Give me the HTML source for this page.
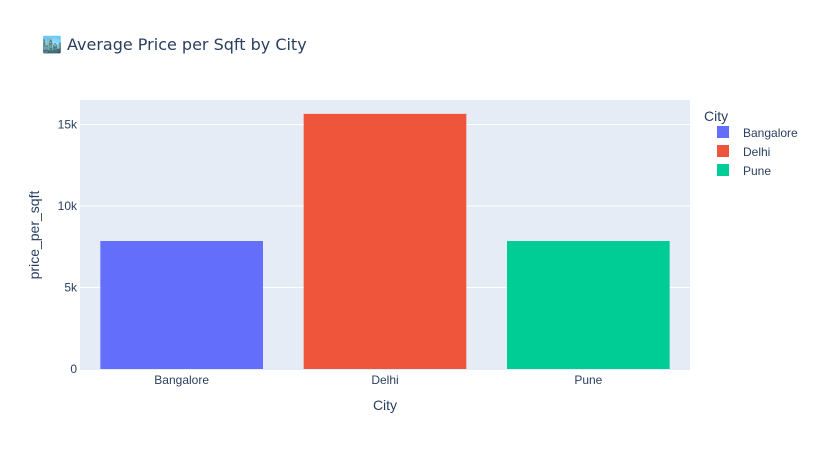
<!DOCTYPE html>
<html><head><meta charset="utf-8"><style>
body{margin:0;background:#fff;}
svg text{font-family:"Liberation Sans","DejaVu Sans",sans-serif;}
</style></head><body>
<svg id="chart" width="820" height="450" xmlns="http://www.w3.org/2000/svg">
<rect width="820" height="450" fill="#fff"/>
<text x="42" y="50" font-size="16" fill="#2a3f5f" style="font-family:'DejaVu Sans',sans-serif">🏙️ Average Price per Sqft by City</text>
<rect x="80" y="100" width="610" height="270" fill="#e5ecf6"/>
<g id="grid"></g>
<g id="bars"></g>
<g id="xt"></g>
<text x="385" y="410" font-size="14" fill="#2a3f5f" text-anchor="middle">City</text>
<text transform="translate(39,235) rotate(-90)" font-size="14" fill="#2a3f5f" text-anchor="middle">price_per_sqft</text>
<g id="legend">
<text x="704" y="121" font-size="14" fill="#2a3f5f">City</text>
</g>
</svg>
<script>
const categories=["Bangalore","Delhi","Pune"];
const values=[7850,15650,7850];
const colors=["#636efa","#ef553b","#00cc96"];
const yTicks=[0,5000,10000,15000];
const yTickLabels=["0","5k","10k","15k"];
const X0=80,W=610,Y0=369,H=269,YMAX=16500;
const ns="http://www.w3.org/2000/svg";
function y(v){return Y0-v/YMAX*H;}
function xc(i){return X0+W/categories.length*(i+0.5);}
function mk(t,a,p){const e=document.createElementNS(ns,t);for(const k in a)e.setAttribute(k,a[k]);p.appendChild(e);return e;}
const grid=document.getElementById('grid');
yTicks.forEach((t,i)=>{
 if(t>0){const l=mk('line',{x1:X0,x2:X0+W,y1:y(t),y2:y(t),stroke:'#fff','stroke-width':1},grid);
 
 }
 const tx=mk('text',{x:X0-3,y:y(t)+4,'font-size':12,fill:'#2a3f5f','text-anchor':'end'},grid);
 tx.textContent=yTickLabels[i];
 
 
});
const bars=document.getElementById('bars'),xt=document.getElementById('xt');
const bw=W/categories.length*0.8;
categories.forEach((c,i)=>{
 const r=mk('rect',{x:xc(i)-bw/2,y:y(values[i]),width:bw,height:Y0-y(values[i]),fill:colors[i]},bars);
 
 
 const t=mk('text',{x:xc(i),y:384,'font-size':12,fill:'#2a3f5f','text-anchor':'middle'},xt);
 t.textContent=c;
 
 
 const lg=document.getElementById('legend');
 const s=mk('rect',{x:717,y:126+i*19,width:12,height:12,fill:colors[i]},lg);
 
 
 const lt=mk('text',{x:743,y:137+i*19,'font-size':12,fill:'#2a3f5f'},lg);
 lt.textContent=c;
 
 
});
</script>
</body></html>
